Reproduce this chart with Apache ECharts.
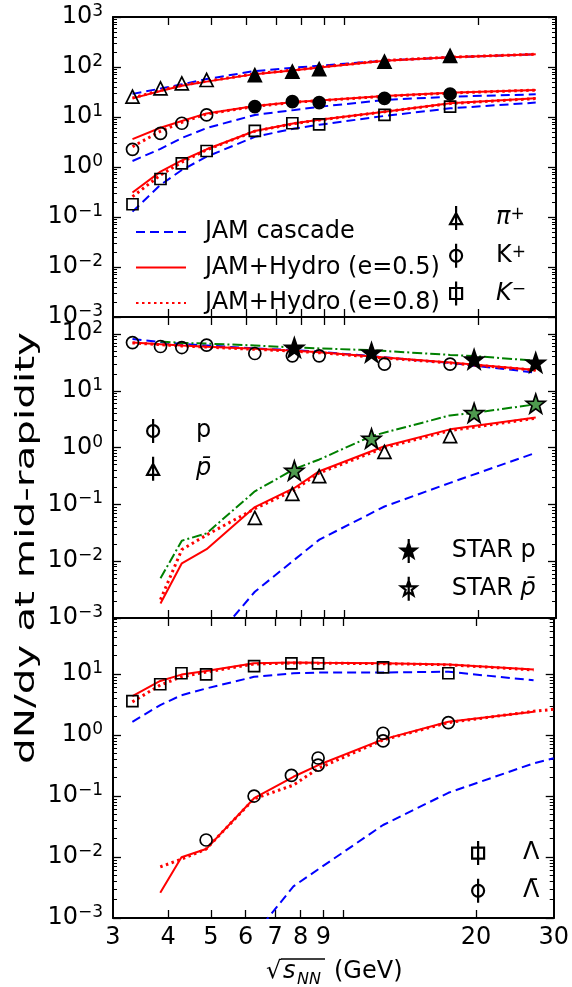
<!DOCTYPE html>
<html>
<head>
<meta charset="utf-8">
<script src="https://cdn.jsdelivr.net/npm/echarts@6/dist/echarts.min.js"></script>
<style>
  html, body { margin: 0; padding: 0; background: #fff; }
  #main { width: 572px; height: 987px; }
</style>
</head>
<body>
<div id="main"></div>
<script>
// energies (GeV)
const eData = [3.32, 3.84, 4.29, 4.88, 6.27, 7.62, 8.76, 12.3, 17.3];
const eModel = [3.32, 3.84, 4.29, 4.88, 6.27, 7.7, 8.77, 12.3, 17.3, 27];
const eModelExt = [3.32, 3.84, 4.29, 4.88, 6.27, 7.7, 8.77, 12.3, 17.3, 27, 30];
const eStar = [7.7, 11.5, 19.6, 27];
const eGreen = [3.84, 4.29, 4.88, 6.27, 7.7, 8.77, 11.5, 17.3, 19.6, 27];

// panel 1: pi+, K+, K-
const piAGS = [25.5, 37.4, 47, 55];
const piSPS = [69, 81, 91, 128, 166];
const kpAGS = [2.26, 4.7, 7.5, 11];
const kpSPS = [16.1, 20.3, 19.4, 23.6, 28.8];
const kmData = [0.18, 0.575, 1.18, 2.09, 5.3, 7.5, 7.1, 11, 16.1];
const piCascade = [29, 37, 45, 57.5, 83, 97, 106, 134, 156, 179];
const piHydro5 = [23.6, 33, 42, 51, 72, 86, 98, 134, 156, 179];
const piHydro8 = [24, 34, 43, 52, 73, 87, 99, 135, 157, 180];
const kpCascade = [1.32, 2.3, 3.8, 6.0, 11, 13.8, 16, 21.9, 25.5, 28.4];
const kpHydro5 = [3.6, 6.1, 8.3, 11.8, 16.6, 20, 21.5, 26.3, 30.5, 34.7];
const kpHydro8 = [2.55, 5.2, 7.8, 11.5, 16.3, 19.7, 21.2, 26, 30.2, 34.5];
const kmCascade = [0.128, 0.44, 0.87, 1.61, 4.0, 5.9, 7.0, 10.5, 14.9, 19.4];
const kmHydro5 = [0.31, 0.81, 1.35, 2.26, 5.25, 7.5, 8.8, 12.8, 18.8, 23.6];
const kmHydro8 = [0.255, 0.69, 1.25, 2.2, 5.2, 7.4, 8.7, 12.7, 18.6, 23.4];

// panel 2: p, pbar
const pData = [71, 60.5, 58, 64, 45.5, 41.4, 41.4, 29.5, 29.5];
const pbarE = [6.27, 7.62, 8.76, 12.3, 17.3];
const pbarData = [0.058, 0.153, 0.314, 0.845, 1.6];
const starP = [58, 47.5, 36, 31.6];
const starPbar = [0.395, 1.45, 4.1, 5.96];
const pCascade = [82, 72, 67, 63, 56, 52, 49, 39, 31, 21];
const pHydro5 = [71, 66, 63, 60, 55, 50.7, 48, 38.7, 31.6, 23.4];
const pHydro8 = [70, 65, 62, 59, 54, 50, 47, 38, 31, 23];
const pGreen = [74, 70, 68, 63, 58, 56, 52, 43, 41, 34];
const pbarCascade = [null, null, null, 0.00029, 0.0029, 0.0106, 0.024, 0.092, 0.24, 0.81];
const pbarHydro5 = [null, 0.0018, 0.0092, 0.0163, 0.09, 0.195, 0.385, 1.06, 2.1, 3.4];
const pbarHydro8 = [null, 0.0021, 0.016, 0.029, 0.084, 0.18, 0.36, 1.0, 2.0, 3.3];
const pbarGreen = [0.005, 0.023, 0.031, 0.17, 0.42, 0.62, 1.6, 3.7, 4.1, 5.8];

// panel 3: Lambda, anti-Lambda
const lamData = [3.6, 6.8, 10.3, 9.9, 13.5, 15, 15, 12.9, 10.3];
const alamE = [4.88, 6.27, 7.62, 8.76, 8.76, 12.3, 12.3, 17.3];
const alamData = [0.019, 0.1, 0.218, 0.42, 0.32, 1.07, 0.8, 1.6];
const lamCascade = [1.65, 3.1, 4.5, 5.8, 9.0, 10.3, 10.6, 10.6, 10.9, 7.9];
const lamHydro5 = [4.35, 7.7, 9.8, 11.2, 15, 15.5, 15.3, 15, 14.4, 11.9];
const lamHydro8 = [3.5, 6.6, 9.0, 10.8, 14.6, 15.2, 15.1, 14.8, 14.2, 11.7];
const alamCascade = [null, null, null, null, 0.00052, 0.0033, 0.0063, 0.0335, 0.113, 0.343, 0.415];
const alamHydro5 = [null, 0.0026, 0.0099, 0.0135, 0.092, 0.207, 0.322, 0.85, 1.65, 2.4];
const alamHydro8 = [null, 0.0069, 0.0092, 0.0135, 0.09, 0.151, 0.284, 0.83, 1.6, 2.45, 2.64];

// axes
const xTicks = [4, 5, 6, 7, 8, 9, 10, 20];
const xLabels = [3, 4, 5, 6, 7, 8, 9, 20, 30];
const yMajor = [0.001, 0.01, 0.1, 1, 10, 100, 1000];
const yMax = [1000, 200, 83];

const yMinor = [];
for (let k = -3; k <= 2; k++) {
  for (let m = 2; m <= 9; m++) {
    yMinor.push(Number((m * Math.pow(10, k)).toPrecision(3)));
  }
}

const FONT = 'DejaVu Sans';
const grids = [
  { left: 113, top: 17, width: 443, height: 300 },
  { left: 113, top: 317, width: 443, height: 301 },
  { left: 113, top: 618, width: 443, height: 300 }
];

function pairs(xs, ys) {
  return xs.map((x, i) => [x, ys[i]]).filter(d => d[1] != null);
}

const blueDash = { color: '#0000ff', width: 2, type: [9, 5] };
const redSolid = { color: '#ff0000', width: 2, type: 'solid' };
const redDot = { color: '#ff0000', width: 3, type: [2.5, 3.5] };
const greenDashDot = { color: '#008000', width: 2, type: [10, 3, 2, 3] };

function line(name, g, xs, ys, style) {
  return {
    name: name,
    type: 'line',
    xAxisIndex: 2 * g,
    yAxisIndex: 4 * g,
    data: pairs(xs, ys),
    symbol: 'none',
    showSymbol: false,
    color: style.color,
    lineStyle: style,
    z: 2
  };
}

function scatter(name, g, xs, ys, symbol, size, fill) {
  return {
    name: name,
    type: 'scatter',
    xAxisIndex: 2 * g,
    yAxisIndex: 4 * g,
    data: pairs(xs, ys),
    symbol: symbol,
    symbolSize: size,
    itemStyle: { color: fill, borderColor: '#000', borderWidth: 1.7, opacity: 1 },
    z: 5
  };
}

function starPath(cx, cy, r) {
  let d = '';
  for (let i = 0; i < 10; i++) {
    const rr = i % 2 ? r * 0.4 : r;
    const a = -Math.PI / 2 + i * Math.PI / 5;
    d += (i ? 'L' : 'M') + (cx + rr * Math.cos(a)).toFixed(2) + ',' + (cy + rr * Math.sin(a)).toFixed(2);
  }
  return d + 'Z';
}
const starSymbol = 'path://' + starPath(0, 0, 10);

// legend icons with error bar
const iconTri = 'path://M6,0L6,24M0,18L6,7L12,18Z';
const iconCirc = 'path://M6,0L6,24M12,12A6,6,0,1,1,0,12A6,6,0,1,1,12,12Z';
const iconSq = 'path://M6,0L6,24M0,6.5L12,6.5L12,17.5L0,17.5Z';
const iconStar = 'path://M8,0L8,24' + starPath(8, 12, 8);

const openStyle = { color: 'rgba(0,0,0,0)', borderColor: '#000', borderWidth: 2.2 };

function yLabel(v) {
  const e = Math.round(Math.log10(v));
  return '{b|10}{e|' + (e < 0 ? '\u2212' + (-e) : e) + '}';
}

const xAxis = [];
const yAxis = [];
grids.forEach((gr, g) => {
  const xb = {
    type: 'log', logBase: 10, gridIndex: g, min: 3, max: 30,
    axisLine: { show: true, onZero: false, lineStyle: { color: '#000', width: 2 } },
    axisTick: { show: true, inside: true, length: 8, customValues: xTicks, lineStyle: { color: '#000', width: 1.3 } },
    splitLine: { show: false },
    minorTick: { show: false }
  };
  xAxis.push(Object.assign({}, xb, {
    position: 'bottom',
    axisLabel: g === 2 ? {
      show: true, customValues: xLabels, fontFamily: FONT, fontSize: 24, color: '#000', margin: 8,
      formatter: v => String(Math.round(v))
    } : { show: false }
  }));
  xAxis.push(Object.assign({}, xb, { position: 'top', axisLabel: { show: false } }));

  const yb = {
    type: 'log', logBase: 10, gridIndex: g, min: 0.001, max: yMax[g],
    splitLine: { show: false },
    minorTick: { show: false }
  };
  ['left', 'right'].forEach(pos => {
    yAxis.push(Object.assign({}, yb, {
      position: pos,
      axisLine: { show: true, onZero: false, lineStyle: { color: '#000', width: 2 } },
      axisTick: { show: true, inside: true, length: 8, customValues: yMajor, lineStyle: { color: '#000', width: 1.3 } },
      axisLabel: pos === 'left' ? {
        show: true, customValues: yMajor, margin: 10, color: '#000', formatter: yLabel,
        rich: {
          b: { fontFamily: FONT, fontSize: 24, lineHeight: 28, color: '#000' },
          e: { fontFamily: FONT, fontSize: 17, lineHeight: 17, verticalAlign: 'top', color: '#000' }
        }
      } : { show: false }
    }));
  });
  ['left', 'right'].forEach(pos => {
    yAxis.push(Object.assign({}, yb, {
      position: pos,
      axisLine: { show: false },
      axisTick: { show: true, inside: true, length: 4, customValues: yMinor, lineStyle: { color: '#000', width: 1 } },
      axisLabel: { show: false }
    }));
  });
});

const series = [
  // panel 1
  line('JAM cascade', 0, eModel, piCascade, blueDash),
  line('JAM+Hydro (e=0.5)', 0, eModel, piHydro5, redSolid),
  line('JAM+Hydro (e=0.8)', 0, eModel, piHydro8, redDot),
  line('JAM cascade', 0, eModel, kpCascade, blueDash),
  line('JAM+Hydro (e=0.5)', 0, eModel, kpHydro5, redSolid),
  line('JAM+Hydro (e=0.8)', 0, eModel, kpHydro8, redDot),
  line('JAM cascade', 0, eModel, kmCascade, blueDash),
  line('JAM+Hydro (e=0.5)', 0, eModel, kmHydro5, redSolid),
  line('JAM+Hydro (e=0.8)', 0, eModel, kmHydro8, redDot),
  scatter('π+', 0, eData.slice(0, 4), piAGS, 'triangle', 13, 'rgba(0,0,0,0)'),
  scatter('π+ SPS', 0, eData.slice(4), piSPS, 'triangle', 13, '#000'),
  scatter('K+', 0, eData.slice(0, 4), kpAGS, 'circle', 12, 'rgba(0,0,0,0)'),
  scatter('K+ SPS', 0, eData.slice(4), kpSPS, 'circle', 12, '#000'),
  scatter('K−', 0, eData, kmData, 'rect', 11, 'rgba(0,0,0,0)'),
  // panel 2
  line('JAM cascade', 1, eModel, pCascade, blueDash),
  line('JAM+Hydro (e=0.5)', 1, eModel, pHydro5, redSolid),
  line('JAM+Hydro (e=0.8)', 1, eModel, pHydro8, redDot),
  line('green p', 1, eGreen, pGreen, greenDashDot),
  line('JAM cascade', 1, eModel, pbarCascade, blueDash),
  line('JAM+Hydro (e=0.5)', 1, eModel, pbarHydro5, redSolid),
  line('JAM+Hydro (e=0.8)', 1, eModel, pbarHydro8, redDot),
  line('green pbar', 1, eGreen, pbarGreen, greenDashDot),
  scatter('p', 1, eData, pData, 'circle', 12, 'rgba(0,0,0,0)'),
  scatter('p̄', 1, pbarE, pbarData, 'triangle', 13, 'rgba(0,0,0,0)'),
  scatter('STAR p', 1, eStar, starP, starSymbol, 19, '#000'),
  scatter('STAR p̄', 1, eStar, starPbar, starSymbol, 19, '#4f9a4f'),
  // panel 3
  line('JAM cascade', 2, eModel, lamCascade, blueDash),
  line('JAM+Hydro (e=0.5)', 2, eModel, lamHydro5, redSolid),
  line('JAM+Hydro (e=0.8)', 2, eModel, lamHydro8, redDot),
  line('JAM cascade', 2, eModelExt, alamCascade, blueDash),
  line('JAM+Hydro (e=0.5)', 2, eModel, alamHydro5, redSolid),
  line('JAM+Hydro (e=0.8)', 2, eModelExt, alamHydro8, redDot),
  scatter('Λ', 2, eData, lamData, 'rect', 11, 'rgba(0,0,0,0)'),
  scatter('Λ̄', 2, alamE, alamData, 'circle', 12, 'rgba(0,0,0,0)')
];

function richText(extra) {
  return Object.assign({
    t: { fontFamily: FONT, fontSize: 24, color: '#000' },
    i: { fontFamily: FONT, fontSize: 24, fontStyle: 'italic', color: '#000' },
    s: { fontFamily: FONT, fontSize: 17, color: '#000', verticalAlign: 'top', lineHeight: 14 }
  }, extra || {});
}

const markLabels = {
  'π+': '{i|π}{s|+}',
  'K+': '{t|K}{s|+}',
  'K−': '{i|K}{s|\u2212}',
  'p': '{t|p}',
  'p̄': '{i|p̄}',
  'STAR p': '{t|STAR p}',
  'STAR p̄': '{t|STAR }{i|p̄}',
  'Λ': '{t|Λ}',
  'Λ̄': '{t|Λ̄}'
};

function markLegend(left, top, gap, w, items) {
  return {
    left: left, top: top, orient: 'vertical',
    itemWidth: w, itemHeight: 24, itemGap: 11.5,
    selectedMode: false,
    formatter: name => '{g|}' + markLabels[name],
    textStyle: { fontFamily: FONT, fontSize: 24, color: '#000', lineHeight: 24, rich: richText({ g: { width: gap } }) },
    data: items.map(it => ({ name: it.name, icon: it.icon, itemStyle: it.style }))
  };
}

const hidden = { opacity: 0, color: 'rgba(0,0,0,0)', borderWidth: 0 };

const option = {
  animation: false,
  backgroundColor: '#fff',
  grid: grids,
  xAxis: xAxis,
  yAxis: yAxis,
  legend: [
    {
      left: 130, top: 214, orient: 'vertical',
      itemWidth: 50, itemHeight: 14, itemGap: 9.5,
      selectedMode: false,
      itemStyle: hidden,
      textStyle: { fontFamily: FONT, fontSize: 24, color: '#000', lineHeight: 26, padding: [0, 0, 0, 14] },
      data: ['JAM cascade', 'JAM+Hydro (e=0.5)', 'JAM+Hydro (e=0.8)'].map(n => ({ name: n, itemStyle: hidden }))
    },
    markLegend(444, 200, 29, 12, [
      { name: 'π+', icon: iconTri, style: openStyle },
      { name: 'K+', icon: iconCirc, style: openStyle },
      { name: 'K−', icon: iconSq, style: openStyle }
    ]),
    markLegend(141, 413, 32, 12, [
      { name: 'p', icon: iconCirc, style: openStyle },
      { name: 'p̄', icon: iconTri, style: openStyle }
    ]),
    markLegend(395, 533, 30, 16, [
      { name: 'STAR p', icon: iconStar, style: { color: '#000', borderColor: '#000', borderWidth: 2.2 } },
      { name: 'STAR p̄', icon: iconStar, style: { color: '#fff', borderColor: '#000', borderWidth: 2.2 } }
    ]),
    markLegend(466, 835, 34, 12, [
      { name: 'Λ', icon: iconSq, style: openStyle },
      { name: 'Λ̄', icon: iconCirc, style: openStyle }
    ])
  ],
  graphic: [
    {
      type: 'text', x: 27, y: 548, rotation: Math.PI / 2, scaleX: 1.5,
      style: { text: 'dN/dy at mid-rapidity', fontFamily: FONT, fontSize: 27, fill: '#000', align: 'center', verticalAlign: 'middle' }
    },
    {
      type: 'text', x: 266, y: 972,
      style: { text: '√', fontFamily: FONT, fontSize: 24, fill: '#000', align: 'left', verticalAlign: 'middle' }
    },
    {
      type: 'text', x: 283, y: 972,
      style: { text: 's', fontFamily: FONT, fontSize: 24, fontStyle: 'italic', fill: '#000', align: 'left', verticalAlign: 'middle' }
    },
    {
      type: 'text', x: 297, y: 980,
      style: { text: 'NN', fontFamily: FONT, fontSize: 16, fontStyle: 'italic', fill: '#000', align: 'left', verticalAlign: 'middle' }
    },
    {
      type: 'text', x: 334, y: 972,
      style: { text: '(GeV)', fontFamily: FONT, fontSize: 24, fill: '#000', align: 'left', verticalAlign: 'middle' }
    },
    {
      type: 'line', shape: { x1: 281, y1: 959, x2: 325, y2: 959 },
      style: { stroke: '#000', lineWidth: 1.5 }
    }
  ],
  series: series
};

const chart = echarts.init(document.getElementById('main'), null, { renderer: 'canvas' });
chart.setOption(option);
</script>
</body>
</html>
